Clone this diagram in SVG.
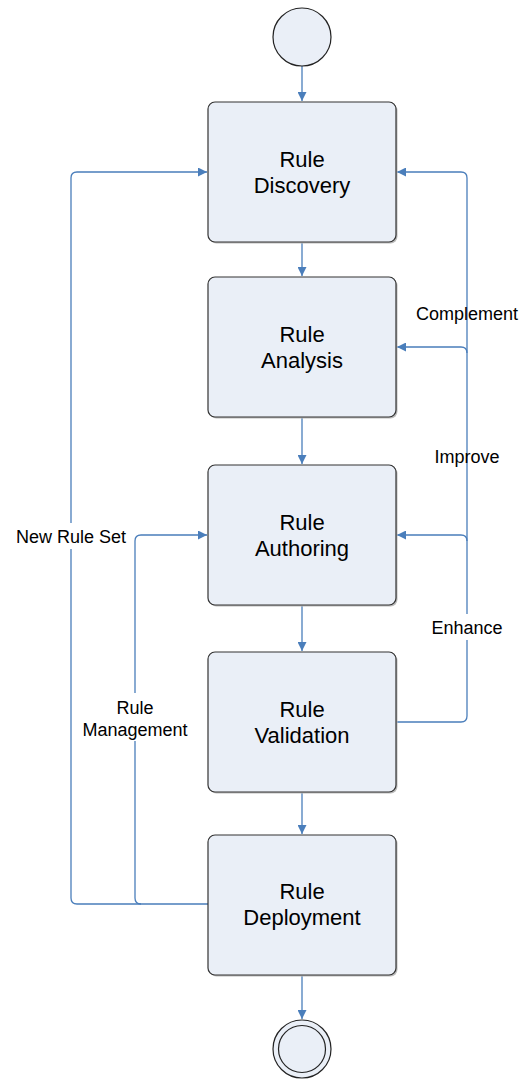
<svg xmlns="http://www.w3.org/2000/svg" width="521" height="1079" viewBox="0 0 521 1079">
<defs>
<marker id="arr" markerWidth="10" markerHeight="9" refX="9" refY="4.5" orient="auto" markerUnits="userSpaceOnUse">
<path d="M0,0 L9,4.5 L0,9 Z" fill="#4a7ebb"/>
</marker>
</defs>
<style>
.box{fill:#eaeff7;stroke:#333;stroke-width:1.2}
.shadow{fill:#bbb}
.t{font-family:"Liberation Sans",Arial,sans-serif;font-size:22px;fill:#000;text-anchor:middle}
.lbl{font-family:"Liberation Sans",Arial,sans-serif;font-size:18px;fill:#000;text-anchor:middle}
.c{fill:none;stroke:#4a7ebb;stroke-width:1.3}
.bg{fill:#fff}
</style>
<rect width="521" height="1079" fill="#fff"/>
<g id="connectors">
<path class="c" d="M302,66 V101" marker-end="url(#arr)"/>
<path class="c" d="M302,242 V276" marker-end="url(#arr)"/>
<path class="c" d="M302,417 V464" marker-end="url(#arr)"/>
<path class="c" d="M302,605 V651" marker-end="url(#arr)"/>
<path class="c" d="M302,792 V834" marker-end="url(#arr)"/>
<path class="c" d="M302,975 V1019" marker-end="url(#arr)"/>
<path class="c" d="M396,722 H461 Q467,722 467,716 V178 Q467,172 461,172 H397" marker-end="url(#arr)"/>
<path class="c" d="M467,353 Q467,347 461,347 H397" marker-end="url(#arr)"/>
<path class="c" d="M467,541 Q467,535 461,535 H397" marker-end="url(#arr)"/>
<path class="c" d="M208,904 H77 Q71,904 71,898 V178 Q71,172 77,172 H207" marker-end="url(#arr)"/>
<path class="c" d="M141,904 Q135,904 135,898 V541 Q135,535 141,535 H207" marker-end="url(#arr)"/>
</g>
<g id="labels">
<text class="lbl" x="467" y="320">Complement</text>
<text class="lbl" x="467" y="463">Improve</text>
<rect class="bg" x="430" y="614" width="74" height="26"/>
<text class="lbl" x="467" y="634">Enhance</text>
<rect class="bg" x="14" y="523" width="114" height="26"/>
<text class="lbl" x="71" y="543">New Rule Set</text>
<rect class="bg" x="80" y="693" width="110" height="48"/>
<text class="lbl" x="135" y="714">Rule</text>
<text class="lbl" x="135" y="736">Management</text>
</g>
<g id="start">
<circle cx="302" cy="37" r="29" fill="#eaeff7" stroke="#222" stroke-width="1.2"/>
</g>
<g id="discovery">
<rect class="shadow" x="209.5" y="103.5" width="188" height="140" rx="7"/>
<rect class="box" x="208" y="102" width="188" height="140" rx="7"/>
<text class="t" x="302" y="167">Rule</text>
<text class="t" x="302" y="193">Discovery</text>
</g>
<g id="analysis">
<rect class="shadow" x="209.5" y="278.5" width="188" height="140" rx="7"/>
<rect class="box" x="208" y="277" width="188" height="140" rx="7"/>
<text class="t" x="302" y="342">Rule</text>
<text class="t" x="302" y="368">Analysis</text>
</g>
<g id="authoring">
<rect class="shadow" x="209.5" y="466.5" width="188" height="140" rx="7"/>
<rect class="box" x="208" y="465" width="188" height="140" rx="7"/>
<text class="t" x="302" y="530">Rule</text>
<text class="t" x="302" y="556">Authoring</text>
</g>
<g id="validation">
<rect class="shadow" x="209.5" y="653.5" width="188" height="140" rx="7"/>
<rect class="box" x="208" y="652" width="188" height="140" rx="7"/>
<text class="t" x="302" y="717">Rule</text>
<text class="t" x="302" y="743">Validation</text>
</g>
<g id="deployment">
<rect class="shadow" x="209.5" y="836.5" width="188" height="140" rx="7"/>
<rect class="box" x="208" y="835" width="188" height="140" rx="7"/>
<text class="t" x="302" y="899">Rule</text>
<text class="t" x="302" y="925">Deployment</text>
</g>
<g id="end">
<circle cx="302" cy="1049" r="29" fill="#eaeff7" stroke="#222" stroke-width="1.2"/>
<circle cx="302" cy="1049" r="23.5" fill="#eaeff7" stroke="#222" stroke-width="1.2"/>
</g>
</svg>
